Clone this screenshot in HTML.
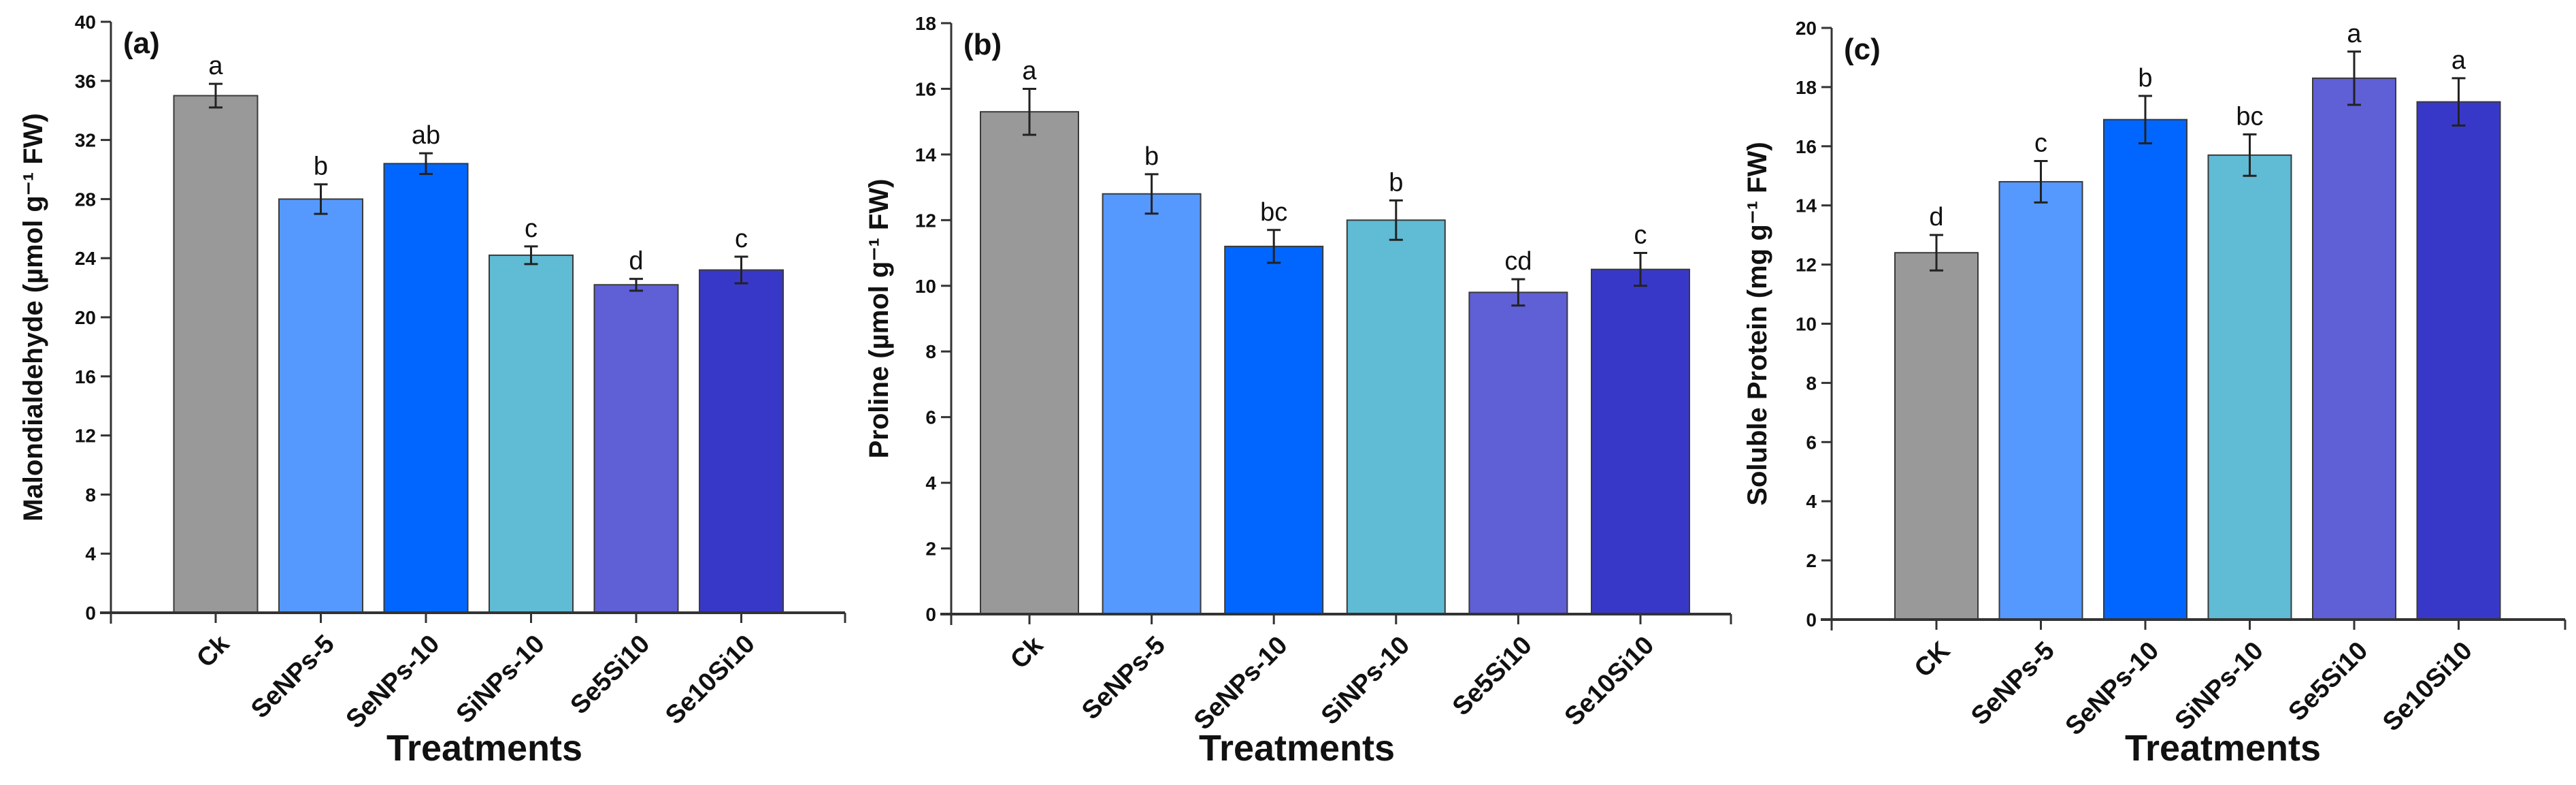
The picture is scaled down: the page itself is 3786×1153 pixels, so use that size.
<!DOCTYPE html>
<html><head><meta charset="utf-8"><style>
html,body{margin:0;padding:0;background:#fff;}
svg{display:block;font-family:"Liberation Sans",Arial,sans-serif;}
</style></head><body>
<svg id="fig" width="3786" height="1153" viewBox="0 0 3786 1153"></svg>
<script>
const categoriesA = ["Ck","SeNPs-5","SeNPs-10","SiNPs-10","Se5Si10","Se10Si10"];
const categoriesC = ["CK","SeNPs-5","SeNPs-10","SiNPs-10","Se5Si10","Se10Si10"];
const valuesA = [35.0, 28.0, 30.4, 24.2, 22.2, 23.2];
const errorsA = [0.8, 1.0, 0.7, 0.6, 0.4, 0.9];
const lettersA = ["a","b","ab","c","d","c"];
const ticksA = [0,4,8,12,16,20,24,28,32,36,40];
const valuesB = [15.3, 12.8, 11.2, 12.0, 9.8, 10.5];
const errorsB = [0.7, 0.6, 0.5, 0.6, 0.4, 0.5];
const lettersB = ["a","b","bc","b","cd","c"];
const ticksB = [0,2,4,6,8,10,12,14,16,18];
const valuesC = [12.4, 14.8, 16.9, 15.7, 18.3, 17.5];
const errorsC = [0.6, 0.7, 0.8, 0.7, 0.9, 0.8];
const lettersC = ["d","c","b","bc","a","a"];
const ticksC = [0,2,4,6,8,10,12,14,16,18,20];
const colors = ["#999999","#5599FF","#0066FF","#60BBD4","#5F5FD6","#3838C8"];

const NS = "http://www.w3.org/2000/svg";
const svg = document.getElementById("fig");
function mk(tag, attrs, parent, text){
  const e = document.createElementNS(NS, tag);
  for (const k in attrs) e.setAttribute(k, attrs[k]);
  if (text !== undefined) e.textContent = text;
  (parent || svg).appendChild(e);
  return e;
}

const panels = [
  {id:"a", cats:categoriesA, vals:valuesA, errs:errorsA, lets:lettersA, ticks:ticksA,
   ax:163, y0:900, yTop:32, x0:317, step:154.5, bw:123, xEnd:1242, ymax:40,
   title:"Malondialdehyde (µmol g⁻¹ FW)", titleX:48, treatX:712},
  {id:"b", cats:categoriesA, vals:valuesB, errs:errorsB, lets:lettersB, ticks:ticksB,
   ax:1398, y0:902, yTop:34, x0:1513, step:179.6, bw:144, xEnd:2544, ymax:18,
   title:"Proline (µmol g⁻¹ FW)", titleX:1291, treatX:1906},
  {id:"c", cats:categoriesC, vals:valuesC, errs:errorsC, lets:lettersC, ticks:ticksC,
   ax:2692, y0:910, yTop:41, x0:2846, step:153.5, bw:122, xEnd:3770, ymax:20,
   title:"Soluble Protein (mg g⁻¹ FW)", titleX:2582, treatX:3267}
];

panels.forEach(p => {
  const g = mk("g", {});
  
  
  const yS = v => p.y0 - (v / p.ymax) * (p.y0 - p.yTop);
  const xS = i => p.x0 + i * p.step;

  p.vals.forEach((v, i) => {
    const r = mk("rect", {x: xS(i) - p.bw/2, y: yS(v), width: p.bw, height: p.y0 - yS(v), fill: colors[i], stroke: "#3a3a3a", "stroke-width": 2}, g);
    
    
    const eb = mk("g", {stroke: "#222", "stroke-width": 3}, g);
    
    
    const hi = yS(v + p.errs[i]), lo = yS(v - p.errs[i]);
    mk("line", {x1: xS(i), x2: xS(i), y1: hi, y2: lo}, eb);
    mk("line", {x1: xS(i) - 10, x2: xS(i) + 10, y1: hi, y2: hi}, eb);
    mk("line", {x1: xS(i) - 10, x2: xS(i) + 10, y1: lo, y2: lo}, eb);
    const t = mk("text", {x: xS(i), y: hi - 14, "text-anchor": "middle", "font-size": 38, fill: "#111"}, g, p.lets[i]);
    
    
    const tk = mk("line", {x1: xS(i), x2: xS(i), y1: p.y0, y2: p.y0 + 15, stroke: "#333", "stroke-width": 3}, g);
    
    
    const lx = xS(i) + 22, ly = p.y0 + 48;
    const cl = mk("text", {x: lx, y: ly, "text-anchor": "end", "font-size": 38, "font-weight": "bold", fill: "#111", transform: "rotate(-45 " + lx + " " + ly + ")"}, g, p.cats[i]);
    
    
  });

  const yax = mk("line", {x1: p.ax, x2: p.ax, y1: p.yTop, y2: p.y0 + 16, stroke: "#333", "stroke-width": 3}, g);
  
  
  const xax = mk("line", {x1: p.ax - 16, x2: p.xEnd, y1: p.y0, y2: p.y0, stroke: "#333", "stroke-width": 4}, g);
  
  
  mk("line", {x1: p.xEnd, x2: p.xEnd, y1: p.y0, y2: p.y0 + 15, stroke: "#333", "stroke-width": 3}, g);

  p.ticks.forEach(t => {
    mk("line", {x1: p.ax - 15, x2: p.ax, y1: yS(t), y2: yS(t), stroke: "#333", "stroke-width": 3}, g);
    const tl = mk("text", {x: p.ax - 22, y: yS(t) + 10, "text-anchor": "end", "font-size": 28, "font-weight": "bold", fill: "#111"}, g, String(t));
    
    
  });

  const cy = (p.yTop + p.y0) / 2;
  const yt = mk("text", {x: p.titleX, y: cy, "text-anchor": "middle", "font-size": 40, "font-weight": "bold", fill: "#111", transform: "rotate(-90 " + p.titleX + " " + cy + ") translate(0 14)"}, g, p.title);
  
  

  const xt = mk("text", {x: p.treatX, y: 1117, "text-anchor": "middle", "font-size": 54, "font-weight": "bold", fill: "#111"}, g, "Treatments");
  
  

  const pl = mk("text", {x: p.ax + 18, y: p.yTop + 46, "font-size": 44, "font-weight": "bold", fill: "#111"}, g, "(" + p.id + ")");
  
  
});
</script>
</body></html>
